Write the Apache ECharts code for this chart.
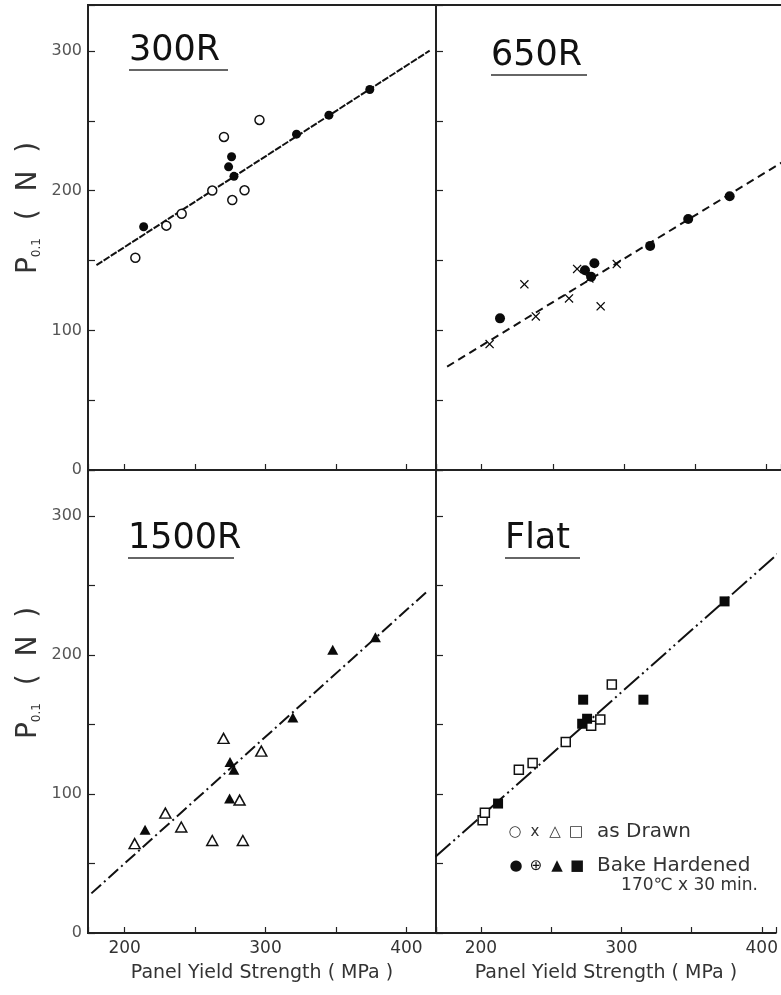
<!DOCTYPE html>
<html>
<head>
<meta charset="utf-8">
<script src="https://cdn.jsdelivr.net/npm/echarts@6/dist/echarts.min.js"></script>
<style>
html,body{margin:0;padding:0;background:#fff;}
#chart{width:781px;height:995px;}
</style>
</head>
<body>
<div id="chart"></div>
<script>
// ---------------- data ----------------
// x = panel yield strength (MPa), y = P0.1 (N)
const panelTitles = ['300R', '650R', '1500R', 'Flat'];
const xTickLabels = [200, 300, 400];
const yTickLabels = [0, 100, 200, 300];

const r300Drawn = [[207.6,152],[229.6,175],[240.5,183.5],[262.2,200.1],[270.5,238.5],[276.4,193.3],[285.1,200.3],[295.7,250.7]];
const r300Baked = [[213.5,174.2],[275.9,224.3],[273.8,217.1],[277.6,210.3],[322,240.5],[345,254.1],[374,272.5]];
const r300Fit   = [[180,146.7],[416.5,300.3]];

const r650Drawn = [[205.6,90.2],[230,133],[238,110],[261.3,122.9],[267,144],[275.6,137.2],[283.5,117.2],[294.8,147.5]];
const r650Baked = [[212.9,108.6],[272.5,143],[276.8,138.4],[279.1,148],[318.2,160.5],[344.9,179.7],[374,196.1]];
const r650Fit   = [[175.8,74],[411.3,220.7]];

const r1500Drawn = [[207.1,64.3],[228.9,86.2],[240.2,76.2],[262.2,66.5],[270.2,140],[281.6,95.6],[283.9,66.5],[297,130.8]];
const r1500Baked = [[214.5,74.2],[274.5,96.8],[274.8,123],[277.5,117.5],[319.4,155],[347.7,203.7],[378,212.7]];
const r1500Fit   = [[176.4,28.5],[414,245]];

const flatDrawn = [[201.2,81.1],[202.8,86.4],[227,117.5],[236.8,122.3],[260.4,137.3],[278.5,149],[285,153.5],[293.2,178.8]];
const flatBaked = [[212.2,93.1],[272.1,150.5],[275.6,154.1],[272.8,167.8],[315.7,167.8],[373.5,238.5]];
const flatFit   = [[167.6,54.8],[411.3,272.6]];

const legendDrawnLabel = 'as Drawn';
const legendBakedLabel = 'Bake Hardened';
const legendBakedNote  = '170℃ x 30 min.';
const legendDrawnSymbols = ['○', 'x', '△', '□'];
const legendBakedSymbols = ['●', '⊕', '▲', '■'];
const xAxisName = 'Panel Yield Strength ( MPa )';

// ---------------- chart ----------------
const FONT = 'DejaVu Sans';
const INK = '#0a0a0a';
const xSym = 'path://M0,1L1,0L5,4L9,0L10,1L6,5L10,9L9,10L5,6L1,10L0,9L4,5Z';

const grids = [
  {left: 88,  top: 5,   width: 348, height: 465, show: true},
  {left: 436, top: 5,   width: 345, height: 465, show: false},
  {left: 88,  top: 470, width: 348, height: 463, show: true},
  {left: 436, top: 470, width: 345, height: 463, show: false}
].map(g => Object.assign({borderColor: '#222', borderWidth: 2, backgroundColor: 'transparent'}, g));

const xRanges = [[174, 421], [168, 410], [174, 421], [168, 410]];

function xAxisFor(i) {
  const bottom = i >= 2;
  return {
    type: 'value', gridIndex: i, min: xRanges[i][0], max: xRanges[i][1],
    minInterval: 50, maxInterval: 50, splitNumber: 5,
    splitLine: {show: false},
    axisLine: {show: true, onZero: false, lineStyle: {color: '#222', width: 2}},
    axisTick: {show: true, inside: true, length: 6, lineStyle: {color: '#222', width: 1.2}},
    axisLabel: {
      show: bottom, margin: 7, color: '#333', fontFamily: FONT, fontSize: 17,
      formatter: v => (xTickLabels.indexOf(v) >= 0 ? String(v) : '')
    },
    name: bottom ? xAxisName : '', nameLocation: 'middle', nameGap: 31,
    nameTextStyle: {color: '#333', fontFamily: FONT, fontSize: 19}
  };
}
// top frame edge of the 650R panel
const topEdgeAxis = {
  type: 'value', gridIndex: 1, position: 'top', min: xRanges[1][0], max: xRanges[1][1],
  splitLine: {show: false}, axisTick: {show: false}, axisLabel: {show: false},
  axisLine: {show: true, onZero: false, lineStyle: {color: '#222', width: 2}}
};

function yAxisFor(i) {
  const left = (i % 2) === 0;
  return {
    type: 'value', gridIndex: i, min: 0, max: 333, interval: 50,
    splitLine: {show: false},
    axisLine: {show: true, onZero: false, lineStyle: {color: '#222', width: 2}},
    axisTick: {show: true, inside: true, length: 7, lineStyle: {color: '#222', width: 1.2}},
    axisLabel: {
      show: left, margin: 6, color: '#555', fontFamily: FONT, fontSize: 16,
      formatter: v => (yTickLabels.indexOf(v) >= 0 ? String(v) : '')
    }
  };
}

function fitSeries(i, data, dash, width) {
  return {
    type: 'line', xAxisIndex: i, yAxisIndex: i, data: data, symbol: 'none', silent: true, z: 1,
    lineStyle: {color: '#111', width: width, type: dash}
  };
}
function openSeries(i, data, symbol, size) {
  return {
    type: 'scatter', xAxisIndex: i, yAxisIndex: i, data: data, symbol: symbol, symbolSize: size, z: 3, silent: true,
    itemStyle: {color: '#fff', borderColor: '#111', borderWidth: 1.5, opacity: 1}
  };
}
function filledSeries(i, data, symbol, size) {
  return {
    type: 'scatter', xAxisIndex: i, yAxisIndex: i, data: data, symbol: symbol, symbolSize: size, z: 4, silent: true,
    itemStyle: {color: INK, opacity: 1}
  };
}

const series = [
  fitSeries(0, r300Fit, [7, 1.5], 2),
  openSeries(0, r300Drawn, 'circle', 9),
  filledSeries(0, r300Baked, 'circle', 9),

  fitSeries(1, r650Fit, [8, 5], 2),
  filledSeries(1, r650Drawn, xSym, 9),
  filledSeries(1, r650Baked, 'circle', 10),

  fitSeries(2, r1500Fit, [13, 4, 2, 4], 2),
  openSeries(2, r1500Drawn, 'triangle', [11, 10]),
  filledSeries(2, r1500Baked, 'triangle', [11, 10]),

  fitSeries(3, flatFit, [20, 4, 2, 4, 2, 4], 2),
  openSeries(3, flatDrawn, 'rect', 9),
  filledSeries(3, flatBaked, 'rect', 10)
];

// panel titles (underlined)
const titlePos = [
  {x: 129, y: 51, w: 99},
  {x: 491, y: 56, w: 96},
  {x: 128, y: 539, w: 106},
  {x: 505, y: 539, w: 75}
];
const graphics = [];
panelTitles.forEach((t, i) => {
  const p = titlePos[i];
  graphics.push({
    type: 'text', x: p.x, y: p.y, silent: true,
    style: {text: t, font: '35px "DejaVu Sans"', fill: '#111', align: 'left', verticalAlign: 'middle'}
  });
  graphics.push({
    type: 'line', silent: true,
    shape: {x1: p.x, y1: p.y + 19, x2: p.x + p.w, y2: p.y + 19},
    style: {stroke: '#333', lineWidth: 1.6}
  });
});

// y axis titles P0.1 ( N )
[208, 673].forEach(cy => {
  graphics.push({
    type: 'text', x: 28, y: cy, rotation: Math.PI / 2, silent: true,
    style: {
      text: '{a|P}{b|0.1}{a|  (  N  )}',
      align: 'center', verticalAlign: 'middle',
      rich: {
        a: {fontFamily: FONT, fontSize: 28, fill: '#333', color: '#333', verticalAlign: 'bottom', lineHeight: 30},
        b: {fontFamily: FONT, fontSize: 12, fill: '#333', color: '#333', verticalAlign: 'bottom', lineHeight: 20}
      }
    }
  });
});

// legend inside Flat panel
const drawnXs = [515, 535, 555, 576];
const bakedXs = [516, 536, 557, 577];
legendDrawnSymbols.forEach((s, k) => {
  graphics.push({type: 'text', x: drawnXs[k], y: 832, silent: true,
    style: {text: s, font: '15px "DejaVu Sans"', fill: '#333', align: 'center', verticalAlign: 'middle'}});
});
legendBakedSymbols.forEach((s, k) => {
  graphics.push({type: 'text', x: bakedXs[k], y: 866, silent: true,
    style: {text: s, font: '15px "DejaVu Sans"', fill: '#111', align: 'center', verticalAlign: 'middle'}});
});
graphics.push({type: 'text', x: 597, y: 832, silent: true,
  style: {text: legendDrawnLabel, font: '20px "DejaVu Sans"', fill: '#333', align: 'left', verticalAlign: 'middle'}});
graphics.push({type: 'text', x: 597, y: 866, silent: true,
  style: {text: legendBakedLabel, font: '20px "DejaVu Sans"', fill: '#333', align: 'left', verticalAlign: 'middle'}});
graphics.push({type: 'text', x: 758, y: 886, silent: true,
  style: {text: legendBakedNote, font: '17px "DejaVu Sans"', fill: '#333', align: 'right', verticalAlign: 'middle'}});

const chart = echarts.init(document.getElementById('chart'), null, {renderer: 'canvas'});
chart.setOption({
  backgroundColor: '#fff',
  animation: false,
  grid: grids,
  xAxis: [0, 1, 2, 3].map(xAxisFor).concat([topEdgeAxis]),
  yAxis: [0, 1, 2, 3].map(yAxisFor),
  series: series,
  graphic: graphics
});
</script>
</body>
</html>
